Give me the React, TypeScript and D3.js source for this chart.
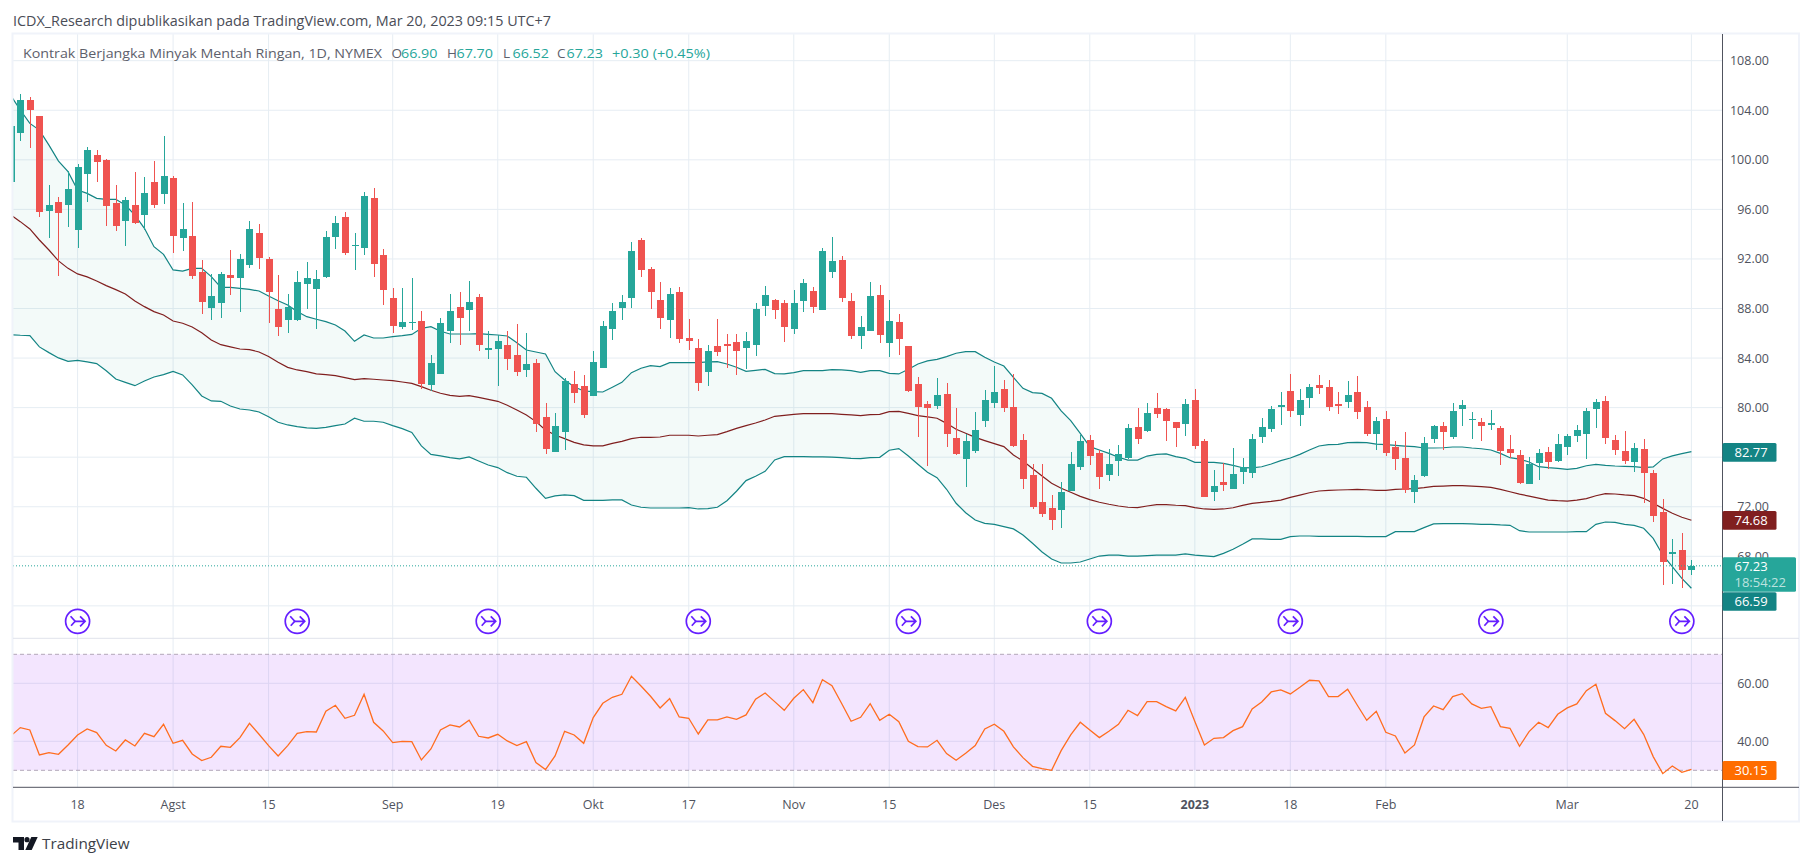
import React from "react";
import * as d3 from "d3";

const opens = [98.23,102.19,104.83,103.53,95.87,96.59,96.35,94.33,98.85,100.39,
99.98,96.51,95.06,96.35,95.54,98.21,97.24,98.53,93.69,93.85,
90.95,88.04,88.44,90.70,90.46,91.51,94.09,92.00,87.96,87.07,
87.07,89.98,89.57,90.54,93.77,95.39,93.05,92.88,96.92,92.32,
88.85,86.51,86.83,87.00,81.82,82.71,86.18,88.12,87.88,88.93,
84.65,84.73,85.05,84.25,83.03,83.60,79.25,76.42,78.04,81.90,
81.74,80.94,83.20,86.34,88.04,88.85,93.53,91.19,88.69,87.08,
89.34,85.62,84.82,82.88,84.98,85.14,85.30,84.82,85.06,88.21,
88.69,88.45,86.35,88.61,89.42,87.88,90.95,91.92,88.61,85.78,
86.19,89.09,85.22,86.91,84.98,81.91,80.30,80.13,81.10,77.55,
75.85,76.50,78.92,80.37,81.50,80.05,77.39,74.56,72.38,71.90,
71.74,73.27,75.21,77.39,76.34,74.56,75.69,75.93,78.44,78.11,
79.97,79.89,78.84,78.68,80.61,77.31,73.19,73.99,73.43,74.80,
74.72,77.63,78.27,80.05,81.34,79.40,80.77,81.82,81.66,80.29,
80.45,81.26,80.05,77.87,79.08,76.82,75.93,73.19,74.48,77.46,
78.51,77.63,79.88,79.00,78.84,78.59,78.35,76.66,76.17,73.83,
75.53,76.41,75.69,76.82,77.71,77.87,79.88,80.54,77.39,76.50,
75.61,76.66,74.73,71.58,68.19,68.51,66.90];

const closes = [102.73,104.83,104.02,95.81,96.35,95.71,97.64,99.42,100.79,99.82,
96.27,94.66,96.75,94.90,97.32,96.35,98.69,93.85,94.41,90.62,
88.53,89.01,90.79,90.46,92.00,94.42,92.08,89.33,86.51,88.12,
90.14,90.46,90.38,93.77,94.90,92.48,93.13,97.08,91.59,89.49,
86.59,86.91,86.91,81.90,83.60,86.83,87.80,87.23,88.52,85.05,
84.81,85.38,83.92,82.87,83.52,78.68,76.66,78.52,82.15,81.18,
79.40,83.68,86.59,87.80,88.52,92.64,91.11,89.34,87.24,89.17,
85.54,85.38,81.99,84.57,84.49,84.98,84.57,85.38,87.96,89.09,
87.88,86.51,88.45,90.06,88.13,92.65,91.84,88.85,85.78,86.51,
89.01,85.87,87.00,85.54,81.35,80.05,79.97,81.02,77.87,76.26,
77.31,78.19,80.61,81.26,79.97,76.90,74.24,71.98,71.41,70.93,
73.19,75.45,77.31,76.09,74.40,75.45,76.26,78.35,77.47,79.57,
79.48,78.92,78.35,80.29,76.90,72.79,73.67,73.75,74.64,75.21,
77.47,78.44,79.89,80.21,79.72,80.61,81.66,81.58,80.05,80.13,
81.02,79.64,77.87,78.92,76.33,75.85,73.35,74.16,77.14,78.51,
78.03,79.72,80.21,79.08,78.51,78.76,76.50,76.33,73.91,75.45,
76.33,75.61,77.06,77.71,78.19,79.72,80.45,77.55,76.58,75.69,
76.74,74.73,71.25,67.54,68.35,66.90,67.23];

const highs = [102.9,105.31,105.04,103.53,97.97,97.00,99.10,99.66,101.03,100.79,
100.06,97.97,97.00,99.01,98.61,99.90,101.92,98.69,96.51,96.59,
91.92,90.79,90.95,92.72,92.40,95.06,94.82,92.16,90.70,89.17,
91.03,91.75,91.11,94.26,95.47,95.79,94.09,97.40,97.73,92.80,
89.66,89.66,90.46,87.80,84.25,87.23,89.17,89.33,90.22,89.17,
86.18,85.86,86.18,86.75,86.02,83.93,80.38,79.57,82.39,82.95,
82.63,84.57,86.99,88.44,89.09,93.37,93.69,91.35,90.14,89.66,
89.74,87.16,85.54,85.06,87.16,85.95,85.95,86.11,88.45,89.82,
88.77,88.69,89.50,90.39,89.74,92.89,93.78,92.24,89.26,87.40,
90.14,89.90,88.69,87.56,84.98,82.48,80.54,82.39,81.99,79.97,
77.87,79.65,81.42,83.36,82.23,82.71,77.87,75.45,75.45,72.95,
73.96,76.42,77.79,77.79,76.58,76.66,76.98,78.68,79.97,80.37,
81.18,79.97,78.84,80.70,81.50,77.47,74.97,75.53,76.74,75.93,
77.87,79.16,80.13,81.26,82.71,81.50,81.90,82.63,82.23,81.26,
82.15,82.55,80.53,79.24,79.72,77.30,78.03,74.56,77.63,78.59,
78.84,80.37,80.61,79.64,79.16,79.80,78.51,77.79,76.58,76.01,
76.66,76.82,77.87,77.87,78.59,79.97,80.69,80.94,77.79,78.12,
77.15,77.47,74.97,72.63,69.40,69.88,67.70];

const lows = [98.1,101.52,100.98,95.41,93.71,90.65,94.58,92.88,96.59,98.21,
94.66,94.25,93.04,94.82,94.33,96.11,96.43,92.48,92.64,90.38,
87.56,87.07,87.23,89.09,87.72,91.27,91.19,86.83,85.78,86.00,
86.99,87.96,86.35,90.46,92.80,92.32,91.11,92.32,90.54,88.28,
86.02,86.35,86.27,81.50,81.37,82.71,85.21,85.05,86.18,84.57,
83.92,81.74,83.03,82.55,82.47,78.04,76.26,76.42,76.58,80.37,
79.16,80.94,83.20,85.46,87.07,88.04,90.55,87.96,86.35,85.62,
85.22,84.65,81.35,81.75,84.17,83.20,82.64,83.12,84.17,87.40,
87.16,85.30,85.95,87.72,87.64,87.88,90.47,88.53,85.54,84.74,
86.19,85.22,84.09,84.25,81.27,77.63,75.29,79.89,76.83,76.20,
73.59,76.34,78.44,79.97,79.65,76.82,73.43,71.82,71.17,70.12,
70.28,73.27,74.97,75.37,73.43,74.08,74.48,75.85,77.06,78.03,
79.16,77.31,76.82,77.71,76.66,72.79,72.46,73.27,73.43,73.83,
74.32,77.14,78.03,78.59,79.24,78.51,79.97,81.10,79.72,79.48,
79.97,79.08,77.71,76.58,76.09,74.96,73.10,72.30,74.40,77.14,
76.58,77.46,78.51,77.46,77.30,78.19,75.37,75.93,73.83,73.83,
74.16,75.04,75.61,76.17,77.22,75.85,78.35,77.07,76.18,75.45,
74.81,72.30,70.77,65.69,65.77,65.44,66.52];

const bbUpper = [105.2,104.02,102.94,102.40,101.19,99.90,99.04,97.56,97.29,96.89,
96.81,96.81,96.35,95.54,94.47,92.99,92.37,91.11,91.02,91.24,
91.24,90.57,89.71,89.71,89.63,89.54,89.41,89.01,88.63,88.28,
87.75,87.34,87.13,86.94,86.67,86.18,85.35,85.86,85.62,85.62,
85.73,85.81,85.91,86.40,86.53,86.16,85.94,85.94,85.94,85.97,
85.91,85.86,85.78,85.24,84.65,84.49,84.33,82.90,82.23,81.69,
81.34,81.29,81.26,81.64,82.04,82.82,83.18,83.39,83.31,83.63,
83.63,83.63,83.63,83.69,83.71,83.52,83.26,82.93,83.01,83.09,
82.74,82.72,82.83,82.99,82.99,82.99,83.07,83.04,82.99,82.85,
82.99,82.99,82.77,82.72,83.09,83.52,83.77,83.90,84.12,84.39,
84.52,84.52,84.06,83.68,83.36,82.44,81.56,81.21,81.15,80.75,
79.73,78.95,77.92,76.85,76.58,76.31,75.99,75.77,75.77,76.09,
76.23,76.26,76.04,75.91,75.58,75.58,75.58,75.50,75.34,75.15,
75.13,75.23,75.45,75.72,75.93,76.23,76.58,76.90,77.01,77.03,
77.17,77.20,77.17,77.06,77.01,76.95,76.90,76.85,76.74,76.74,
76.76,76.82,76.82,76.74,76.68,76.58,76.31,75.96,75.85,75.61,
75.23,75.15,75.10,75.02,75.10,75.31,75.42,75.34,75.29,75.26,
75.24,75.16,75.21,75.86,76.10,76.29,76.45];

const bbBasis = [95.55,95.01,94.42,93.53,92.72,91.84,91.24,90.79,90.55,90.22,
89.85,89.52,89.17,88.61,88.15,87.75,87.48,86.99,86.81,86.51,
86.05,85.46,85.08,84.90,84.73,84.68,84.49,84.12,83.66,83.25,
83.04,82.90,82.72,82.66,82.58,82.42,82.26,82.34,82.29,82.23,
82.18,82.07,81.96,81.69,81.40,81.16,80.99,80.91,80.97,80.83,
80.67,80.51,80.19,79.81,79.41,78.87,78.20,77.79,77.50,77.20,
76.99,76.91,76.91,77.12,77.28,77.50,77.61,77.60,77.63,77.77,
77.77,77.77,77.71,77.77,77.82,78.06,78.33,78.55,78.76,79.00,
79.30,79.38,79.46,79.51,79.51,79.51,79.51,79.46,79.41,79.35,
79.43,79.46,79.68,79.70,79.54,79.35,79.25,79.14,78.73,78.25,
77.93,77.60,77.34,77.09,76.85,76.18,75.69,75.08,74.48,73.89,
73.49,73.17,72.84,72.57,72.36,72.20,72.06,71.96,71.93,72.06,
72.17,72.17,72.12,72.09,71.93,71.82,71.79,71.82,71.92,72.11,
72.27,72.36,72.44,72.54,72.76,72.94,73.13,73.27,73.32,73.35,
73.37,73.40,73.37,73.32,73.32,73.40,73.43,73.46,73.54,73.64,
73.67,73.70,73.70,73.67,73.62,73.56,73.40,73.21,73.02,72.86,
72.70,72.54,72.49,72.46,72.54,72.65,72.89,73.06,73.03,72.95,
72.90,72.68,72.28,71.87,71.47,71.15,70.91];

const bbLower = [85.89,85.84,85.81,84.90,84.44,84.01,83.74,83.82,83.69,83.55,
82.98,82.31,82.04,81.77,82.15,82.47,82.66,82.93,82.64,81.83,
80.94,80.54,80.51,80.13,79.89,79.81,79.65,79.27,78.82,78.60,
78.47,78.36,78.33,78.41,78.55,78.68,79.14,78.90,78.90,78.82,
78.55,78.30,78.00,76.91,76.23,76.10,75.96,75.86,76.02,75.69,
75.37,75.16,74.75,74.46,74.38,73.49,72.68,72.87,72.95,72.90,
72.52,72.52,72.52,72.55,72.55,72.14,71.96,71.90,71.90,71.90,
71.90,71.93,71.82,71.85,71.96,72.49,73.25,74.11,74.46,74.86,
75.78,76.04,76.04,76.04,76.02,76.02,76.00,75.96,75.91,75.88,
75.96,75.99,76.56,76.69,76.10,75.43,74.78,74.35,73.41,72.28,
71.52,70.93,70.66,70.58,70.39,70.21,69.72,69.05,68.35,67.78,
67.46,67.46,67.54,67.78,68.02,68.10,68.10,68.02,68.02,68.06,
68.10,68.10,68.10,68.19,68.10,68.03,67.97,68.24,68.57,68.97,
69.40,69.40,69.37,69.37,69.59,69.64,69.64,69.61,69.61,69.61,
69.61,69.61,69.59,69.59,69.59,69.99,69.99,69.99,70.31,70.61,
70.64,70.64,70.64,70.61,70.58,70.58,70.53,70.50,70.07,69.96,
69.96,69.96,69.96,69.96,69.99,69.99,70.58,70.77,70.74,70.58,
70.50,70.26,69.45,68.11,67.17,66.22,65.42];

const rsi = [41.84,44.72,43.91,35.29,36.10,35.52,38.74,42.19,44.26,42.99,
38.63,36.67,40.46,38.40,42.76,41.61,45.87,39.31,40.35,35.64,
33.34,34.49,38.28,37.93,41.27,46.21,42.42,38.51,34.95,38.51,
42.76,43.34,43.22,50.35,52.42,47.94,48.97,56.21,46.56,43.57,
39.54,40.00,39.89,33.57,37.36,43.91,45.64,44.95,47.25,41.73,
41.15,42.42,40.12,38.51,39.89,32.65,30.23,34.95,43.45,42.19,
39.31,48.17,53.11,55.18,56.21,62.42,59.08,55.52,51.50,54.72,
48.40,47.94,42.53,47.36,47.36,48.40,47.59,49.09,54.49,56.67,
53.68,50.69,54.83,57.82,53.34,61.27,59.20,53.11,46.90,48.28,
52.99,47.25,49.31,46.79,40.00,38.17,38.05,40.35,35.75,33.45,
35.87,38.51,44.26,45.87,43.45,38.05,34.37,31.38,30.58,30.00,
36.79,42.19,46.56,43.91,41.27,43.45,45.87,50.69,48.86,53.68,
53.68,51.96,50.46,55.18,46.79,38.74,41.04,41.27,43.68,45.06,
51.15,53.57,57.02,57.71,56.33,58.63,61.04,60.81,55.41,55.41,
57.94,52.53,47.25,50.35,43.11,41.84,35.98,38.74,48.40,52.19,
50.92,55.41,56.44,52.88,51.38,51.96,45.06,44.49,38.28,43.34,
46.56,44.72,49.31,51.50,52.88,57.47,59.66,49.66,47.13,44.37,
47.59,42.42,34.72,28.85,31.50,29.31,30.35];

const priceTicks = [108, 104, 100, 96, 92, 88, 84, 80, 76, 72, 68, 64];
const priceLabels = [108, 104, 100, 96, 92, 88, 84, 80, 72, 68];
const rsiTicks = [60, 40];
const rsiBand = [70, 30];
const timeTickIndex = [7, 17, 27, 40, 51, 61, 71, 82, 92, 103, 113, 124, 134, 144, 163, 176];
const timeTickLabels = ["18", "Agst", "15", "Sep", "19", "Okt", "17", "Nov", "15", "Des", "15", "2023", "18", "Feb", "Mar", "20"];
const dividendIndex = [7, 30, 50, 72, 94, 114, 134, 155, 175];
const legendTitle = "Kontrak Berjangka Minyak Mentah Ringan, 1D, NYMEX";
const lastOHLC = [["O", "66.90"], ["H", "67.70"], ["L", "66.52"], ["C", "67.23"]];
const legendKeyX = [391.5, 447, 503, 557];

const FONT = "'Open Sans', 'Noto Sans', sans-serif";
const UP = "#26a69a";
const DOWN = "#ef5350";
const BAND = "#138484";
const BASIS = "#801f1f";
const GRID = "#e6edf3";
const AXISTXT = "#50535e";
const PURPLE = "#651fff";

const PANE_L = 13;
const AXIS_X = 1722.5;
const FRAME_R = 1799;

const xScale = d3.scaleLinear().domain([0, 176]).range([10.75, 1691.4]);
const yPrice = d3.scaleLinear().domain([68, 108]).range([556.3, 60.7]);
const yRsi = d3.scaleLinear().domain([60, 40]).range([683.3, 741.3]);

const idx = opens.map((_, i) => i);

function Box({ y0, y1, x1 = 1776.5, fill }: { y0: number; y1: number; x1?: number; fill: string }) {
  return <rect x={AXIS_X} y={y0} width={x1 - AXIS_X} height={y1 - y0} rx={1.5} fill={fill} />;
}

export default function App() {
  const bandLine = (vals: number[]) =>
    d3.line<number>().x((i) => xScale(i)).y((i) => yPrice(vals[i]))(idx) as string;
  const bandArea = d3
    .area<number>()
    .x((i) => xScale(i))
    .y0((i) => yPrice(bbLower[i]))
    .y1((i) => yPrice(bbUpper[i]))(idx) as string;
  const rsiPath = d3.line<number>().x((i) => xScale(i)).y((i) => yRsi(rsi[i]))(idx) as string;

  return (
    <svg
      width={1813}
      height={866}
      viewBox="0 0 1813 866"
      style={{ position: "absolute", left: 0, top: 0, display: "block", background: "#fff" }}
      fontFamily={FONT}
    >
      <defs>
        <clipPath id="pane">
          <rect x={PANE_L} y={34} width={AXIS_X - PANE_L} height={604} />
        </clipPath>
        <clipPath id="rsipane">
          <rect x={PANE_L} y={639} width={AXIS_X - PANE_L} height={148} />
        </clipPath>
      </defs>

      <text x={13} y={25.5} fontSize={13.8} fill="#4a4d57" textLength={538} lengthAdjust="spacingAndGlyphs">
        ICDX_Research dipublikasikan pada TradingView.com, Mar 20, 2023 09:15 UTC+7
      </text>

      {/* grid */}
      {priceTicks.map((t) => (
        <line key={t} x1={PANE_L} x2={AXIS_X} y1={yPrice(t)} y2={yPrice(t)} stroke={GRID} strokeWidth={1} />
      ))}
      {rsiTicks.map((t) => (
        <line key={t} x1={PANE_L} x2={AXIS_X} y1={yRsi(t)} y2={yRsi(t)} stroke={GRID} strokeWidth={1} />
      ))}
      {timeTickIndex.map((t) => (
        <line key={t} x1={xScale(t)} x2={xScale(t)} y1={34} y2={787} stroke={GRID} strokeWidth={1} />
      ))}

      {/* bollinger */}
      <g clipPath="url(#pane)">
        <path d={bandArea} fill={UP} fillOpacity={0.055} />
        <path d={bandLine(bbUpper)} fill="none" stroke={BAND} strokeWidth={1.2} />
        <path d={bandLine(bbLower)} fill="none" stroke={BAND} strokeWidth={1.2} />
        <path d={bandLine(bbBasis)} fill="none" stroke={BASIS} strokeWidth={1.2} />

        {/* candles */}
        {idx.map((i) => {
          const up = closes[i] >= opens[i];
          const col = up ? UP : DOWN;
          const x = Math.round(xScale(i));
          const top = yPrice(Math.max(opens[i], closes[i]));
          const bot = yPrice(Math.min(opens[i], closes[i]));
          return (
            <g key={i} shapeRendering="crispEdges">
              <rect x={x} y={yPrice(highs[i])} width={1} height={yPrice(lows[i]) - yPrice(highs[i])} fill={col} />
              <rect x={x - 3} y={top} width={7} height={Math.max(1, bot - top)} fill={col} />
            </g>
          );
        })}

        <line
          x1={PANE_L}
          x2={AXIS_X}
          y1={yPrice(closes[176])}
          y2={yPrice(closes[176])}
          stroke={UP}
          strokeWidth={1}
          strokeDasharray="1 2"
        />

        {/* dividend marks */}
        {dividendIndex.map((i) => (
          <g key={i} transform={`translate(${xScale(i)},621.3)`} fill="none" stroke={PURPLE} strokeWidth={1.7}>
            <circle r={12} fill="#fff" />
            <path d="M-3.5 0H7.5M2.5-5L7.5 0L2.5 5" />
            <path d="M-7-5L-2.5 0L-6.5 4.5" />
          </g>
        ))}
      </g>

      {/* rsi pane */}
      <g clipPath="url(#rsipane)">
        <rect
          x={PANE_L}
          y={yRsi(rsiBand[0])}
          width={AXIS_X - PANE_L}
          height={yRsi(rsiBand[1]) - yRsi(rsiBand[0])}
          fill="#9b27f5"
          fillOpacity={0.12}
        />
        {rsiBand.map((t) => (
          <line
            key={t}
            x1={PANE_L}
            x2={AXIS_X}
            y1={yRsi(t)}
            y2={yRsi(t)}
            stroke="#b2a7b8"
            strokeWidth={1}
            strokeDasharray="4 3"
          />
        ))}
        <path d={rsiPath} fill="none" stroke="#ff6d1f" strokeWidth={1.3} />
      </g>

      {/* frame & axes */}
      <rect x={12.5} y={33.5} width={FRAME_R - 12.5} height={788} fill="none" stroke="#f0f3fa" strokeWidth={2} />
      <line x1={PANE_L} x2={FRAME_R} y1={638.3} y2={638.3} stroke="#e0e3eb" strokeWidth={1} />
      <line x1={PANE_L} x2={FRAME_R} y1={787.3} y2={787.3} stroke="#50535e" strokeWidth={1} />
      <line x1={AXIS_X} x2={AXIS_X} y1={34} y2={821} stroke="#50535e" strokeWidth={1} />

      {/* legend */}
      <text x={23} y={57.5} fontSize={13.5} fill="#5d606b" textLength={359} lengthAdjust="spacingAndGlyphs">
        {legendTitle}
      </text>
      {lastOHLC.map(([k, v], n) => (
        <g key={k} fontSize={13.5}>
          <text x={legendKeyX[n]} y={57.5} fill="#5d606b">{k}</text>
          <text x={legendKeyX[n] + 9.5} y={57.5} fill={UP} textLength={36.5} lengthAdjust="spacingAndGlyphs">{v}</text>
        </g>
      ))}
      <text x={612} y={57.5} fontSize={13.5} fill={UP} textLength={98} lengthAdjust="spacingAndGlyphs">
        +0.30 (+0.45%)
      </text>

      {/* price axis */}
      {priceLabels.map((t) => (
        <text key={t} x={1769} y={yPrice(t) + 4.5} fontSize={12.5} textAnchor="end" fill={AXISTXT}>
          {t.toFixed(2)}
        </text>
      ))}
      {rsiTicks.map((t) => (
        <text key={t} x={1769} y={yRsi(t) + 4.5} fontSize={12.5} textAnchor="end" fill={AXISTXT}>
          {t.toFixed(2)}
        </text>
      ))}

      {/* time axis */}
      {timeTickIndex.map((t, n) => (
        <text
          key={t}
          x={xScale(t)}
          y={808.5}
          fontSize={12.5}
          textAnchor="middle"
          fill={AXISTXT}
          fontWeight={timeTickLabels[n] === "2023" ? 700 : 400}
        >
          {timeTickLabels[n]}
        </text>
      ))}

      {/* value boxes */}
      <g fontSize={13} fill="#fff">
        <Box y0={443} y1={461.7} fill={BAND} />
        <text x={1734.5} y={457}>82.77</text>
        <Box y0={511} y1={529.7} fill={BASIS} />
        <text x={1734.5} y={525}>74.68</text>
        <Box y0={592.3} y1={610.7} fill={BAND} />
        <text x={1734.5} y={606}>66.59</text>
        <Box y0={557.3} y1={591.7} x1={1796} fill={UP} />
        <text x={1734.5} y={571}>67.23</text>
        <text x={1734.5} y={587} fillOpacity={0.7}>18:54:22</text>
        <Box y0={761} y1={780} fill="#ff6d00" />
        <text x={1734.5} y={775}>30.15</text>
      </g>

      {/* logo */}
      <g fill="#131722">
        <path d="M13 837H24V850H18.5V842.5H13Z" />
        <circle cx={27} cy={839.7} r={2.6} />
        <path d="M31.3 837H37.7L31.7 850H25.3Z" />
      </g>
      <text x={42} y={849} fontSize={15.3} fill="#3c3f48">
        TradingView
      </text>
    </svg>
  );
}
